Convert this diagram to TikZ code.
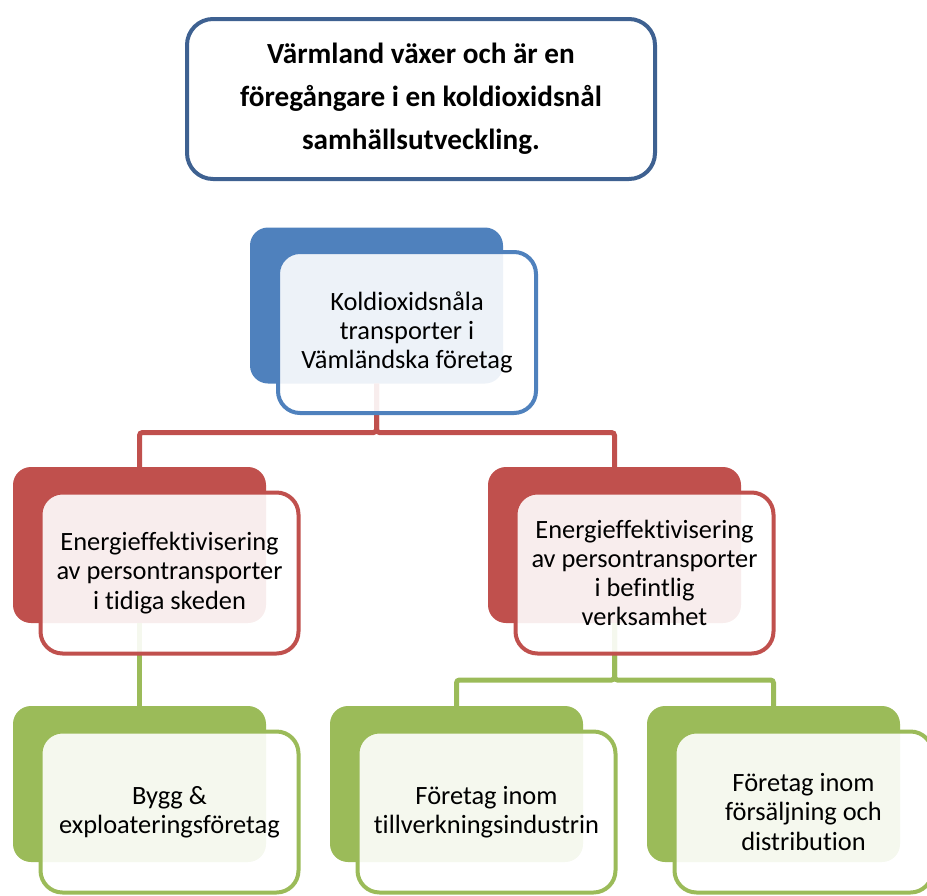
\documentclass[tikz,border=0pt]{standalone}
\usepackage{fontspec}
\setmainfont{Carlito}[Ligatures={NoCommon}]
\usepackage{tikz}
\usetikzlibrary{positioning}
\definecolor{titleblue}{HTML}{3E6191}
\definecolor{smblue}{HTML}{4F81BD}
\definecolor{smred}{HTML}{C0504D}
\definecolor{smgreen}{HTML}{9BBB59}
\tikzstyle{title}=[draw=titleblue, line width=2pt, rounded corners=13pt, minimum width=234pt, minimum height=80pt, align=center, font=\bfseries\fontsize{14.6}{21.5}\selectfont]
\tikzstyle{back}=[rounded corners=9pt, minimum width=126.5pt, minimum height=78pt, outer sep=0pt]
\tikzstyle{front}=[draw, line width=2pt, rounded corners=11pt, fill=white, fill opacity=0.9, text opacity=1, minimum width=129pt, minimum height=80.5pt, align=center, font=\fontsize{13.2}{14.6}\selectfont]
\tikzstyle{link}=[line width=2.5pt, rounded corners=1.5pt]

\begin{document}
\begin{tikzpicture}[x=0.5pt, y=-0.5pt]
	\path[use as bounding box] (0,0) rectangle (927,895);
	\clip (0,0) rectangle (927,895);
	\node[title] (goal) at (421,99) {V\"armland v\"axer och \"ar en\\f\"oreg\aa ngare i en koldioxidsn\aa l\\samh\"allsutveckling.};
	% back shapes
	\node[back, fill=smblue] (top) at (376.5,305.5) {};
	\node[back, fill=smred] (earlyback) at (139.5,545) {};
	\node[back, fill=smred] (currentback) at (614.5,545) {};
	\node[back, fill=smgreen] (buildback) at (139.5,784) {};
	\node[back, fill=smgreen] (industryback) at (456.5,784) {};
	\node[back, fill=smgreen] (salesback) at (773.5,784) {};
	% connectors
	\draw[link, smred] (top.south) -- ++(0,49) -| (earlyback.north);
	\draw[link, smred] (top.south) -- ++(0,49) -| (currentback.north);
	\draw[link, smgreen] (earlyback.south) -- (buildback.north);
	\draw[link, smgreen] (currentback.south) -- ++(0,57) -| (industryback.north);
	\draw[link, smgreen] (currentback.south) -- ++(0,57) -| (salesback.north);
	% front shapes
	\node[front, draw=smblue] (topfront) at ([shift={(30.5,27)}]top) {Koldioxidsn\aa la\\transporter i\\V\"aml\"andska f\"oretag};
	\node[front, draw=smred] (early) at ([shift={(30,28)}]earlyback) {Energieffektivisering\\av persontransporter\\i tidiga skeden};
	\node[front, draw=smred] (current) at ([shift={(30,28)}]currentback) {Energieffektivisering\\av persontransporter\\i befintlig\\verksamhet};
	\node[front, draw=smgreen] (build) at ([shift={(30,28)}]buildback) {Bygg \&\\exploateringsf\"oretag};
	\node[front, draw=smgreen] (industry) at ([shift={(30,28)}]industryback) {F\"oretag inom\\tillverkningsindustrin};
	\node[front, draw=smgreen] (sales) at ([shift={(30,28)}]salesback) {F\"oretag inom\\f\"ors\"aljning och\\distribution};
\end{tikzpicture}
\end{document}
